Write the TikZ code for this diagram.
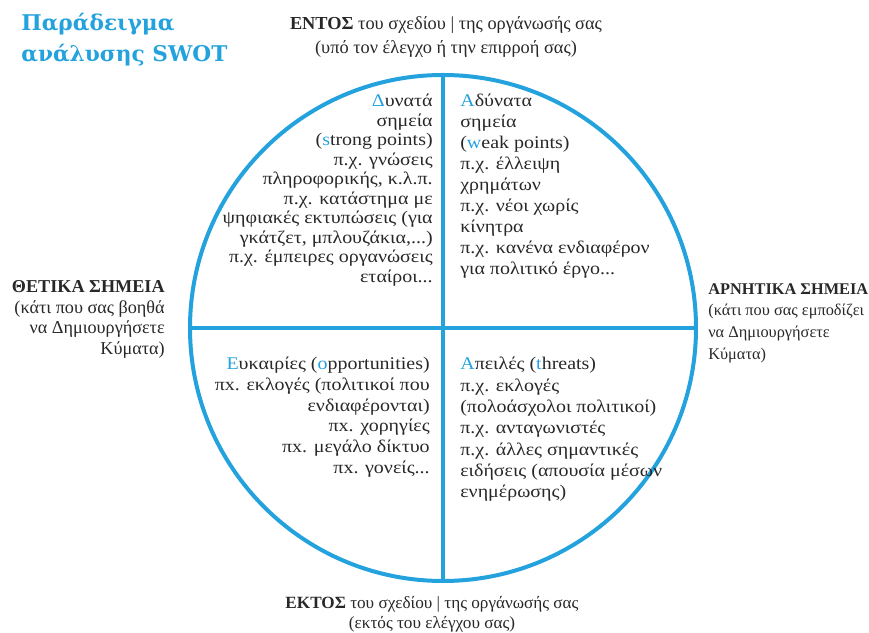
\documentclass[tikz,border=0pt]{standalone}
\usepackage{fontspec}
\setmainfont{Liberation Serif}
\newfontfamily\titlefont{DejaVu Serif}
\newfontfamily\widefont[FakeStretch=1.12]{Liberation Serif}
\usepackage{xcolor}
\usepackage{tikz}
\usetikzlibrary{positioning}

\definecolor{swotblue}{RGB}{35,162,222}
\definecolor{swotink}{RGB}{40,40,40}
\newcommand{\swotkey}[1]{\textcolor{swotblue}{#1}}

\begin{document}
\begin{tikzpicture}[
			x = 0.6pt, y = -0.6pt,
			ring/.style = {swotblue, line width = 2.4pt},
			quad/.style = {text = swotink, inner sep = 0pt, font = \widefont\fontsize{10.7}{11.7}\selectfont},
			side/.style = {text = swotink, inner sep = 0pt, font = \fontsize{10.9}{12.4}\selectfont},
			axis/.style = {text = swotink, inner sep = 0pt, align = center},
			heading/.style = {swotblue, inner sep = 0pt, align = left, font = \titlefont\bfseries\fontsize{13}{18.5}\selectfont}
		]
		\useasboundingbox (0,0) rectangle (869,633);

		% the circle and its two axes
		\coordinate (c) at (443,328);
		\coordinate (n) at (443,75);
		\coordinate (s) at (443,581);
		\coordinate (w) at (190,328);
		\coordinate (e) at (696,328);
		\draw[ring] (c) circle (253);
		\draw[ring] (n) -- (s);
		\draw[ring] (w) -- (e);

		\node[heading, anchor=north west] (title) at (21,13) {Παράδειγμα\\ανάλυσης SWOT};

		\node[axis, anchor=north, font=\fontsize{11}{14.5}\selectfont] (inside) at (446,16) {\textbf{ΕΝΤΟΣ} του σχεδίου | της οργάνωσής σας\\(υπό τον έλεγχο ή την επιρροή σας)};
		\node[axis, anchor=north, font=\fontsize{10.3}{11.8}\selectfont] (outside) at (432,596) {\textbf{ΕΚΤΟΣ} του σχεδίου | της οργάνωσής σας\\(εκτός του ελέγχου σας)};

		\node[side, align=right, anchor=north east] (plus) at (165,280) {\textbf{ΘΕΤΙΚΑ ΣΗΜΕΙΑ}\\(κάτι που σας βοηθά\\να Δημιουργήσετε\\Κύματα)};
		\node[side, align=left, anchor=north west, font=\fontsize{9.8}{13}\selectfont] (minus) at (708,283) {\textbf{ΑΡΝΗΤΙΚΑ ΣΗΜΕΙΑ}\\(κάτι που σας εμποδίζει\\να Δημιουργήσετε\\Κύματα)};

		% the four quadrants
		\node[quad, align=right, anchor=north east] (strong) at (433,94) {\swotkey{Δ}υνατά\\σημεία\\(\swotkey{s}trong points)\\π.χ. γνώσεις\\πληροφορικής, κ.λ.π.\\π.χ. κατάστημα με\\ψηφιακές εκτυπώσεις (για\\γκάτζετ, μπλουζάκια,...)\\π.χ. έμπειρες οργανώσεις\\εταίροι...};
		\node[quad, align=left, anchor=north west, font=\widefont\fontsize{10.7}{12.6}\selectfont] (weak) at (460,94) {\swotkey{Α}δύνατα\\σημεία\\(\swotkey{w}eak points)\\π.χ. έλλειψη\\χρημάτων\\π.χ. νέοι χωρίς\\κίνητρα\\π.χ. κανένα ενδιαφέρον\\για πολιτικό έργο...};
		\node[quad, align=right, anchor=north east, font=\widefont\fontsize{10.7}{12.4}\selectfont] (chance) at (430,357) {\swotkey{Ε}υκαιρίες (\swotkey{o}pportunities)\\πx. εκλογές (πολιτικοί που\\ενδιαφέρονται)\\πx. χορηγίες\\πx. μεγάλο δίκτυο\\πx. γονείς...};
		\node[quad, align=left, anchor=north west, font=\widefont\fontsize{10.7}{12.8}\selectfont] (threat) at (460,357) {\swotkey{Α}πειλές (\swotkey{t}hreats)\\π.χ. εκλογές\\(πολοάσχολοι πολιτικοί)\\π.χ. ανταγωνιστές\\π.χ. άλλες σημαντικές\\ειδήσεις (απουσία μέσων\\ενημέρωσης)};

\end{tikzpicture}
\end{document}
